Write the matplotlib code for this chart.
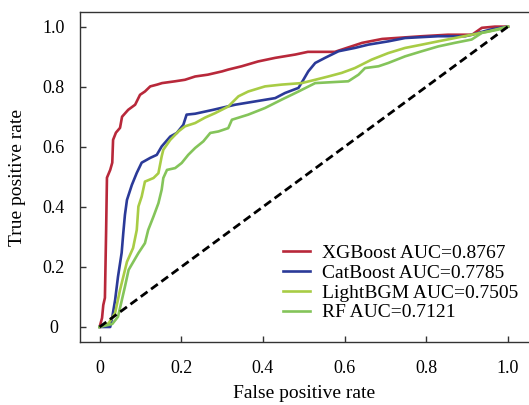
import matplotlib.pyplot as plt
import numpy as np

plt.rcParams['font.family'] = ['Liberation Serif', 'DejaVu Serif']

# ROC curves (fpr, tpr)
xgb_fpr = [0, 0.006, 0.009, 0.013, 0.016, 0.018, 0.026, 0.031, 0.033, 0.040, 0.050, 0.055, 0.070, 0.087,
           0.099, 0.111, 0.124, 0.141, 0.153, 0.185, 0.209, 0.234, 0.265, 0.300, 0.315, 0.348, 0.388,
           0.430, 0.479, 0.510, 0.576, 0.643, 0.692, 0.789, 0.853, 0.912, 0.936, 0.968, 1.0]
xgb_tpr = [0, 0.030, 0.073, 0.097, 0.323, 0.497, 0.523, 0.547, 0.623, 0.647, 0.663, 0.700, 0.723, 0.740,
           0.773, 0.784, 0.801, 0.807, 0.812, 0.818, 0.823, 0.834, 0.840, 0.851, 0.857, 0.868, 0.884,
           0.896, 0.907, 0.916, 0.916, 0.946, 0.959, 0.968, 0.973, 0.973, 0.996, 1.0, 1.0]

cat_fpr = [0, 0.026, 0.031, 0.038, 0.045, 0.054, 0.058, 0.062, 0.067, 0.079, 0.091, 0.103, 0.124, 0.140,
           0.152, 0.173, 0.189, 0.205, 0.213, 0.234, 0.278, 0.332, 0.381, 0.430, 0.454, 0.487, 0.499,
           0.511, 0.528, 0.552, 0.585, 0.625, 0.658, 0.707, 0.748, 0.829, 0.895, 0.912, 0.956, 1.0]
cat_tpr = [0, 0, 0.033, 0.090, 0.167, 0.247, 0.313, 0.373, 0.423, 0.473, 0.513, 0.547, 0.563, 0.573,
           0.601, 0.634, 0.646, 0.673, 0.707, 0.710, 0.723, 0.740, 0.751, 0.762, 0.779, 0.796, 0.823,
           0.851, 0.879, 0.896, 0.918, 0.929, 0.940, 0.951, 0.962, 0.968, 0.968, 0.973, 0.990, 1.0]

lgb_fpr = [0, 0.022, 0.038, 0.050, 0.067, 0.082, 0.091, 0.095, 0.103, 0.111, 0.132, 0.144, 0.152, 0.156,
           0.173, 0.193, 0.209, 0.234, 0.258, 0.283, 0.315, 0.340, 0.364, 0.405, 0.446, 0.495, 0.528,
           0.560, 0.593, 0.625, 0.666, 0.707, 0.748, 0.789, 0.829, 0.870, 0.911, 0.952, 1.0]
lgb_tpr = [0, 0.012, 0.047, 0.123, 0.217, 0.263, 0.323, 0.401, 0.434, 0.484, 0.496, 0.512, 0.568, 0.590,
           0.623, 0.651, 0.668, 0.679, 0.697, 0.712, 0.734, 0.768, 0.784, 0.801, 0.807, 0.812, 0.823,
           0.834, 0.846, 0.862, 0.890, 0.912, 0.929, 0.940, 0.951, 0.962, 0.973, 0.984, 1.0]

rf_fpr = [0, 0.031, 0.045, 0.062, 0.071, 0.095, 0.111, 0.119, 0.132, 0.144, 0.152, 0.156, 0.165, 0.185,
          0.201, 0.217, 0.234, 0.254, 0.271, 0.291, 0.315, 0.324, 0.364, 0.405, 0.446, 0.487, 0.528,
          0.609, 0.634, 0.650, 0.683, 0.707, 0.748, 0.789, 0.829, 0.870, 0.911, 0.936, 0.976, 1.0]
rf_tpr = [0, 0.010, 0.034, 0.134, 0.190, 0.246, 0.279, 0.323, 0.368, 0.412, 0.457, 0.496, 0.523, 0.529,
          0.546, 0.573, 0.596, 0.618, 0.646, 0.651, 0.662, 0.690, 0.707, 0.729, 0.757, 0.784, 0.812,
          0.818, 0.840, 0.862, 0.868, 0.879, 0.901, 0.918, 0.934, 0.946, 0.957, 0.979, 0.990, 1.0]

labels = ["XGBoost AUC=0.8767", "CatBoost AUC=0.7785", "LightBGM AUC=0.7505", "RF AUC=0.7121"]
colors = ["#b8283a", "#2b3a98", "#a8cc45", "#84c45a"]
ticks = [0, 0.2, 0.4, 0.6, 0.8, 1.0]
tick_labels = ["0", "0.2", "0.4", "0.6", "0.8", "1.0"]

fig = plt.figure(figsize=(5.29, 4.05), dpi=100)
ax = fig.add_axes([80/529, 62.7/405, 448.4/529, 330.4/405])

curves = [(xgb_fpr, xgb_tpr), (cat_fpr, cat_tpr), (lgb_fpr, lgb_tpr), (rf_fpr, rf_tpr)]
for (f, t), lab, c in zip(curves, labels, colors):
    ax.plot(f, t, color=c, lw=1.9, label=lab)
ax.plot([0, 1], [0, 1], color="black", lw=2.0, dashes=(3, 1.6))

ax.set_xlim(-0.048, 1.05)
ax.set_ylim(-0.051, 1.049)
ax.set_xticks(ticks)
ax.set_xticklabels(tick_labels)
ax.set_yticks(ticks)
ax.set_yticklabels(tick_labels)
ax.tick_params(direction="in", length=4, width=1, labelsize=13, colors="#333333", labelcolor="black")
ax.tick_params(axis="x", pad=12.5)
ax.tick_params(axis="y", pad=19)
for lbl in ax.get_yticklabels():
    lbl.set_horizontalalignment("center")
ax.spines["right"].set_visible(False)
for s in ["left", "top", "bottom"]:
    ax.spines[s].set_color("#333333")
    ax.spines[s].set_linewidth(1.0)

ax.set_xlabel("False positive rate", fontsize=14)
ax.set_ylabel("True positive rate", fontsize=14)
ax.xaxis.set_label_coords(0.5, -0.128)
ax.yaxis.set_label_coords(-0.12, 0.5)

ax.legend(loc="upper left", bbox_to_anchor=(283/529, 1 - 244/405), bbox_transform=fig.transFigure,
          frameon=False, fontsize=14, handlelength=1.4, handletextpad=0.62, labelspacing=0.12,
          borderpad=0, borderaxespad=0)

fig.savefig("out.png", dpi=100)
